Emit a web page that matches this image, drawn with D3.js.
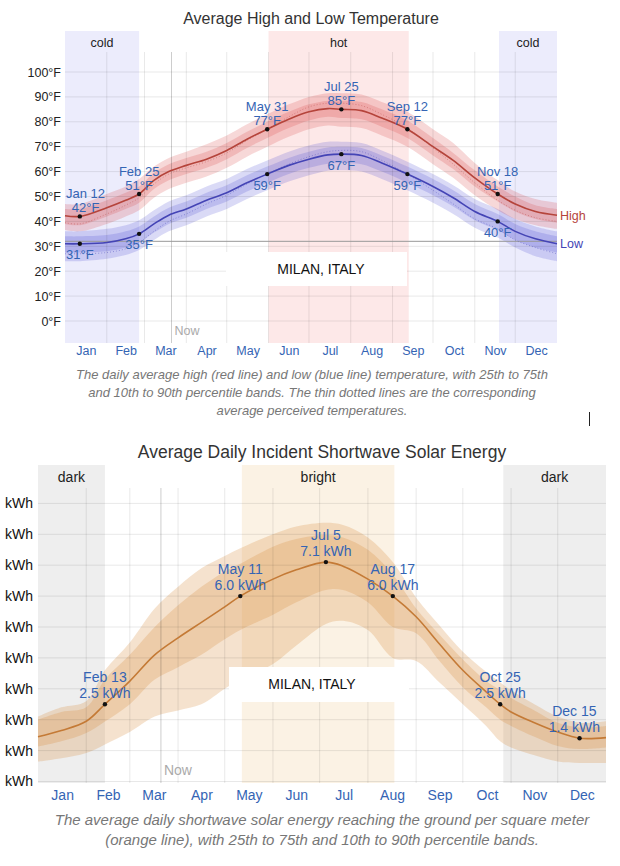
<!DOCTYPE html>
<html>
<head>
<meta charset="utf-8">
<script src="https://cdn.jsdelivr.net/npm/d3@7"></script>
<style>
  body { margin: 0; background: #fff; }
  svg { display: block; font-family: "Liberation Sans", Arial, Helvetica, sans-serif; }
</style>
</head>
<body>
<svg id="chart" width="620" height="866"></svg>
<script>
// ---- shared ----
var months = ["Jan", "Feb", "Mar", "Apr", "May", "Jun", "Jul", "Aug", "Sep", "Oct", "Nov", "Dec"];
var monthStarts = [0, 31, 59, 90, 120, 151, 181, 212, 243, 273, 304, 334, 365];
var nowDay = 79;

// ---- temperature (deg F), by day of year ----
var tempDays = [0, 11, 31, 45, 55, 66, 77, 90, 105, 120, 135, 150, 166, 181, 195, 205, 220, 235, 254, 273, 288, 304, 321, 334, 349, 365];
var high    = [42.3, 42, 45.5, 48.5, 51, 56.5, 60, 62.5, 65, 68.5, 73, 77, 81, 84, 85.3, 85, 84.5, 81.5, 77, 70, 64.5, 57.5, 51, 47, 44, 42.5];
var highP90 = [47, 47, 51, 54, 57, 62, 65.5, 68, 71, 74.5, 79, 83, 87, 90, 91.5, 91.5, 91, 88, 84, 77, 71.5, 63.5, 56.5, 52, 49, 47.5];
var highP75 = [45, 45, 48.5, 51.5, 54, 59.5, 63, 65.5, 68, 71.5, 76, 80, 84, 87, 88.5, 88.5, 88, 85, 80.5, 73.5, 67.5, 60.5, 54, 50, 46.5, 45];
var highP25 = [39, 38.5, 42, 45, 47.5, 53, 56.5, 59, 61.5, 65, 69.5, 73.5, 77.5, 80.5, 82, 81.5, 81, 78, 73.5, 66.5, 61, 54, 48, 44, 41, 39.5];
var highP10 = [36.5, 36, 39, 42, 44.5, 49.5, 53, 55.5, 58, 61.5, 66, 70, 74, 77, 78.5, 78, 77.5, 74.5, 70, 63, 57.5, 50.5, 44.5, 41, 38.5, 37];
var highFeels = [39.5, 39, 43, 46.5, 49.5, 55, 59, 61.5, 64, 67.5, 72.5, 77, 82, 86, 87.5, 87.5, 86.5, 83, 77.5, 69.5, 63, 55.5, 48.5, 44.5, 41.5, 40];
var low     = [31, 31, 31.5, 33, 35, 39, 42.5, 45, 48.5, 51.5, 55.5, 59, 62.5, 65, 66.7, 67, 66.5, 63.5, 59, 54, 49.5, 44, 40, 36, 33, 31];
var lowP90  = [36, 36, 37, 38.5, 40.5, 44.5, 48, 50.5, 54, 57, 61, 64.5, 68, 70.5, 72, 72, 71.5, 68.5, 64, 59, 54.5, 49, 45, 41, 38, 36];
var lowP75  = [34, 34, 34.5, 36, 38, 42, 45.5, 48, 51.5, 54.5, 58.5, 62, 65.5, 68, 69.7, 70, 69.5, 66.5, 62, 57, 52.5, 47, 43, 39, 36, 34];
var lowP25  = [27.5, 27.5, 28, 29.5, 31.5, 35.5, 39, 41.5, 45, 48, 52, 55.5, 59, 61.5, 63.2, 63.5, 63, 60, 55.5, 50.5, 46, 40.5, 36.5, 32.5, 29.5, 27.5];
var lowP10  = [24, 24, 25, 26.5, 28.5, 32.5, 36, 38.5, 42, 45, 49, 52.5, 56, 58.5, 60.3, 60.5, 60, 57, 52.5, 47.5, 43, 37.5, 33.5, 29.5, 26, 24];
var lowFeels = [27, 27, 27.5, 29, 31.5, 36, 40, 43, 47, 50.5, 55, 59, 63, 66, 68, 68.5, 68, 64.5, 59, 52.5, 47, 41, 37, 32.5, 29.5, 27];
var tempTicks = [0, 10, 20, 30, 40, 50, 60, 70, 80, 90, 100];
var tempSeasonNames = ["cold", "hot", "cold"];
var tempSeasonFrom = [0, 151, 322];
var tempSeasonTo = [55, 255, 365];
var tempMarkDays = [11, 55, 150, 205, 254, 321];
var tempMarkNames = ["Jan 12", "Feb 25", "May 31", "Jul 25", "Sep 12", "Nov 18"];

// ---- solar energy (kWh), by day of year ----
var solarDays = [0, 15, 31, 43, 59, 75, 90, 105, 120, 130, 151, 166, 185, 196, 212, 228, 243, 258, 273, 288, 297, 304, 319, 334, 348, 365];
var solar    = [1.45, 1.65, 1.95, 2.5, 3.25, 4.1, 4.65, 5.15, 5.65, 6.0, 6.55, 6.85, 7.1, 6.97, 6.55, 6.0, 5.33, 4.45, 3.6, 2.9, 2.5, 2.25, 1.9, 1.6, 1.4, 1.42];
var solarP90 = [2.1, 2.4, 2.6, 3.6, 4.5, 5.6, 6.3, 6.9, 7.3, 7.55, 8.0, 8.25, 8.37, 8.3, 7.9, 7.1, 5.95, 5.05, 4.2, 3.55, 3.2, 2.95, 2.5, 2.1, 1.9, 1.95];
var solarP75 = [2.0, 2.25, 2.4, 3.3, 4.1, 5.0, 5.7, 6.3, 6.8, 7.05, 7.6, 7.85, 7.98, 7.9, 7.5, 6.7, 5.6, 4.75, 3.95, 3.25, 2.95, 2.7, 2.3, 1.9, 1.75, 1.8];
var solarP25 = [1.13, 1.3, 1.57, 1.94, 2.5, 3.3, 3.7, 4.1, 4.6, 4.9, 5.4, 5.8, 6.2, 6.2, 5.8, 5.0, 4.8, 3.9, 3.05, 2.4, 2.0, 1.8, 1.45, 1.15, 1.05, 1.1];
var solarP10 = [0.64, 0.75, 0.92, 1.2, 1.6, 2.1, 2.3, 2.5, 3.0, 3.3, 3.8, 4.4, 5.1, 5.2, 4.9, 4.0, 3.9, 3.2, 2.5, 1.8, 1.3, 1.1, 0.85, 0.65, 0.6, 0.6];
var solarTicks = [0, 1, 2, 3, 4, 5, 6, 7, 8, 9];
var solarSeasonNames = ["dark", "bright", "dark"];
var solarSeasonFrom = [0, 131, 299];
var solarSeasonTo = [43, 229, 365];
var solarMarkDays = [43, 130, 185, 228, 297, 348];
var solarMarkNames = ["Feb 13", "May 11", "Jul 5", "Aug 17", "Oct 25", "Dec 15"];

var svg = d3.select("#chart");
var blue = "#3464b4";
var gridColor = "rgba(0,0,0,0.09)";

drawTemperature();
drawSolar();

// little text cursor left in the screenshot
svg.append("line").attr("x1", 589.5).attr("x2", 589.5).attr("y1", 412).attr("y2", 426)
    .attr("stroke", "#222").attr("stroke-width", 1);

function zip(days, a) {
    return days.map(function (d, i) { return [d, a[i]]; });
}

function bandData(days, lo, hi) {
    return days.map(function (d, i) { return {d: d, lo: lo[i], hi: hi[i]}; });
}

// two line label centred on a point, shifted to stay inside the plot
function annotate(g, px, py, lines, offsets, size, minX, maxX) {
    var grp = g.append("g");
    var texts = lines.map(function (t, i) {
        return grp.append("text")
            .attr("x", px)
            .attr("y", py + offsets[i])
            .attr("dy", "0.35em")
            .attr("text-anchor", "middle")
            .attr("font-size", size)
            .attr("fill", blue)
            .text(t);
    });
    var w = d3.max(texts, function (t) { return t.node().getComputedTextLength(); });
    var shift = 0;
    if (px - w / 2 < minX) shift = minX - (px - w / 2);
    if (px + w / 2 > maxX) shift = maxX - (px + w / 2);
    texts.forEach(function (t) { t.attr("x", px + shift); });
}

function drawFrame(g, x, y, opt) {
    // seasons
    opt.seasonNames.forEach(function (name, i) {
        g.append("rect")
            .attr("x", x(opt.seasonFrom[i]))
            .attr("y", opt.top)
            .attr("width", x(opt.seasonTo[i]) - x(opt.seasonFrom[i]))
            .attr("height", opt.bottom - opt.top)
            .attr("fill", opt.seasonColors[name]);
        g.append("text")
            .attr("x", (x(opt.seasonFrom[i]) + x(opt.seasonTo[i])) / 2)
            .attr("y", opt.top + 12)
            .attr("dy", "0.35em")
            .attr("text-anchor", "middle")
            .attr("font-size", opt.labelSize)
            .attr("fill", "#222")
            .text(name);
    });
}

function drawGrid(g, x, y, opt) {
    g.append("g").selectAll("line")
        .data(opt.ticks)
        .enter().append("line")
        .attr("x1", x.range()[0]).attr("x2", x.range()[1])
        .attr("y1", function (d) { return y(d); })
        .attr("y2", function (d) { return y(d); })
        .attr("stroke", gridColor);
    g.append("g").selectAll("line")
        .data(monthStarts.slice(1, 12))
        .enter().append("line")
        .attr("x1", function (d) { return x(d); })
        .attr("x2", function (d) { return x(d); })
        .attr("y1", opt.gridTop).attr("y2", opt.bottom)
        .attr("stroke", gridColor);
    // now marker
    g.append("line")
        .attr("x1", x(nowDay)).attr("x2", x(nowDay))
        .attr("y1", opt.gridTop).attr("y2", opt.bottom)
        .attr("stroke", "rgba(0,0,0,0.2)");
    g.append("text")
        .attr("x", x(nowDay) + 3)
        .attr("y", opt.nowY)
        .attr("dy", "0.35em")
        .attr("font-size", opt.labelSize)
        .attr("fill", "#aaa")
        .text("Now");
}

function drawMonths(g, x, ypos, size) {
    var axis = d3.axisBottom(x)
        .tickValues(months.map(function (m, i) { return (monthStarts[i] + monthStarts[i + 1]) / 2; }))
        .tickFormat(function (d, i) { return months[i]; })
        .tickSize(0);
    var a = g.append("g").attr("transform", "translate(0," + ypos + ")").call(axis);
    a.select(".domain").remove();
    a.selectAll("text")
        .attr("y", 0).attr("dy", "0.35em")
        .attr("font-size", size)
        .attr("font-family", "Liberation Sans, Arial, sans-serif")
        .attr("fill", blue);
}

function drawBox(g, x0, y0, x1, y1, cx) {
    g.append("rect").attr("x", x0).attr("y", y0).attr("width", x1 - x0).attr("height", y1 - y0).attr("fill", "#fff");
    g.append("text")
        .attr("x", cx).attr("y", (y0 + y1) / 2).attr("dy", "0.35em")
        .attr("text-anchor", "middle")
        .attr("font-size", 14)
        .attr("fill", "#111")
        .text("MILAN, ITALY");
}

function drawCaption(g, cx, ys, lines, size) {
    lines.forEach(function (t, i) {
        g.append("text")
            .attr("x", cx).attr("y", ys[i]).attr("dy", "0.35em")
            .attr("text-anchor", "middle")
            .attr("font-size", size)
            .attr("font-style", "italic")
            .attr("fill", "#777")
            .text(t);
    });
}

function drawTemperature() {
    var x = d3.scaleLinear().domain([0, 365]).range([65, 557]);
    var y = d3.scaleLinear().domain([0, 100]).range([321, 72]);
    var opt = {
        top: 31, bottom: 343, gridTop: 52, nowY: 331, labelSize: 12.5,
        ticks: tempTicks,
        seasonNames: tempSeasonNames, seasonFrom: tempSeasonFrom, seasonTo: tempSeasonTo,
        seasonColors: {cold: "#ececfc", hot: "#fde8e8"}
    };
    var g = svg.append("g");

    g.append("text")
        .attr("x", 311).attr("y", 18).attr("dy", "0.35em")
        .attr("text-anchor", "middle")
        .attr("font-size", 16)
        .attr("fill", "#333")
        .text("Average High and Low Temperature");

    drawFrame(g, x, y, opt);

    var area = d3.area()
        .x(function (d) { return x(d.d); })
        .y0(function (d) { return y(d.lo); })
        .y1(function (d) { return y(d.hi); })
        .curve(d3.curveCatmullRom);
    var line = d3.line()
        .x(function (d) { return x(d[0]); })
        .y(function (d) { return y(d[1]); })
        .curve(d3.curveCatmullRom);

    var red = "rgba(215,60,60,0.2)", blu = "rgba(70,70,210,0.2)";
    g.append("path").attr("d", area(bandData(tempDays, lowP10, lowP90))).attr("fill", blu);
    g.append("path").attr("d", area(bandData(tempDays, lowP25, lowP75))).attr("fill", blu);
    g.append("path").attr("d", area(bandData(tempDays, highP10, highP90))).attr("fill", red);
    g.append("path").attr("d", area(bandData(tempDays, highP25, highP75))).attr("fill", red);

    drawGrid(g, x, y, opt);

    // freezing line
    g.append("line")
        .attr("x1", 65).attr("x2", 557)
        .attr("y1", y(32)).attr("y2", y(32))
        .attr("stroke", "#999");

    // perceived temperatures
    g.append("path").attr("d", line(zip(tempDays, highFeels)))
        .attr("fill", "none").attr("stroke", "#c05050").attr("stroke-opacity", 0.5)
        .attr("stroke-width", 1).attr("stroke-dasharray", "1,2");
    g.append("path").attr("d", line(zip(tempDays, lowFeels)))
        .attr("fill", "none").attr("stroke", "#5050c0").attr("stroke-opacity", 0.5)
        .attr("stroke-width", 1).attr("stroke-dasharray", "1,2");

    g.append("path").attr("d", line(zip(tempDays, high)))
        .attr("fill", "none").attr("stroke", "#b5443b").attr("stroke-width", 1.6);
    g.append("path").attr("d", line(zip(tempDays, low)))
        .attr("fill", "none").attr("stroke", "#4444b5").attr("stroke-width", 1.6);

    tempMarkDays.forEach(function (day, i) {
        var k = tempDays.indexOf(day);
        var hx = x(day), hy = y(high[k]), ly = y(low[k]);
        g.append("circle").attr("cx", hx).attr("cy", hy).attr("r", 2.2).attr("fill", "#111");
        g.append("circle").attr("cx", hx).attr("cy", ly).attr("r", 2.2).attr("fill", "#111");
        annotate(g, hx, hy, [tempMarkNames[i], Math.round(high[k]) + "°F"], [-23, -9], 13, 66, 555);
        annotate(g, hx, ly, [Math.round(low[k]) + "°F"], [11], 13, 66, 555);
    });

    // y tick labels
    var ax = g.append("g").attr("transform", "translate(61,0)")
        .call(d3.axisLeft(y).tickValues(tempTicks).tickSize(0).tickFormat(function (d) { return d + "°F"; }));
    ax.select(".domain").remove();
    ax.selectAll("text").attr("x", 0).attr("font-size", 12.5)
        .attr("font-family", "Liberation Sans, Arial, sans-serif").attr("fill", "#222");

    // series names
    g.append("text").attr("x", 560).attr("y", y(high[high.length - 1])).attr("dy", "0.35em")
        .attr("font-size", 12.5).attr("fill", "#b5443b").text("High");
    g.append("text").attr("x", 560).attr("y", y(low[low.length - 1])).attr("dy", "0.35em")
        .attr("font-size", 12.5).attr("fill", "#4444b5").text("Low");

    drawBox(g, 226, 252, 407, 286, 321);
    drawMonths(g, x, 351, 12.5);
    drawCaption(g, 312, [374, 392, 410], [
        "The daily average high (red line) and low (blue line) temperature, with 25th to 75th",
        "and 10th to 90th percentile bands. The thin dotted lines are the corresponding",
        "average perceived temperatures."
    ], 13);
}

function drawSolar() {
    var x = d3.scaleLinear().domain([0, 365]).range([38, 606]);
    var y = d3.scaleLinear().domain([0, 9]).range([781.5, 503.4]);
    var opt = {
        top: 465, bottom: 783, gridTop: 488, nowY: 770, labelSize: 14,
        ticks: solarTicks,
        seasonNames: solarSeasonNames, seasonFrom: solarSeasonFrom, seasonTo: solarSeasonTo,
        seasonColors: {dark: "#eeeeee", bright: "#fbf2e4"}
    };
    var g = svg.append("g");

    g.append("text")
        .attr("x", 322).attr("y", 452).attr("dy", "0.35em")
        .attr("text-anchor", "middle")
        .attr("font-size", 17.5)
        .attr("fill", "#333")
        .text("Average Daily Incident Shortwave Solar Energy");

    drawFrame(g, x, y, opt);

    var area = d3.area()
        .x(function (d) { return x(d.d); })
        .y0(function (d) { return y(d.lo); })
        .y1(function (d) { return y(d.hi); })
        .curve(d3.curveCatmullRom);
    var line = d3.line()
        .x(function (d) { return x(d[0]); })
        .y(function (d) { return y(d[1]); })
        .curve(d3.curveCatmullRom);

    var tan = "rgba(215,140,60,0.25)";
    g.append("path").attr("d", area(bandData(solarDays, solarP10, solarP90))).attr("fill", tan);
    g.append("path").attr("d", area(bandData(solarDays, solarP25, solarP75))).attr("fill", tan);

    drawGrid(g, x, y, opt);

    g.append("path").attr("d", line(zip(solarDays, solar)))
        .attr("fill", "none").attr("stroke", "#c47a36").attr("stroke-width", 1.6);

    solarMarkDays.forEach(function (day, i) {
        var k = solarDays.indexOf(day);
        var px = x(day), py = y(solar[k]);
        g.append("circle").attr("cx", px).attr("cy", py).attr("r", 2.2).attr("fill", "#111");
        annotate(g, px, py, [solarMarkNames[i], d3.format(".1f")(solar[k]) + " kWh"], [-27, -11], 14, 40, 600);
    });

    var ax = g.append("g").attr("transform", "translate(33,0)")
        .call(d3.axisLeft(y).tickValues(solarTicks).tickSize(0).tickFormat(function () { return "kWh"; }));
    ax.select(".domain").remove();
    ax.selectAll("text").attr("x", 0).attr("font-size", 14)
        .attr("font-family", "Liberation Sans, Arial, sans-serif").attr("fill", "#111");

    drawBox(g, 229, 667, 409, 702, 312);
    drawMonths(g, x, 795, 14);
    drawCaption(g, 322, [820, 840], [
        "The average daily shortwave solar energy reaching the ground per square meter",
        "(orange line), with 25th to 75th and 10th to 90th percentile bands."
    ], 15);
}
</script>
</body>
</html>
